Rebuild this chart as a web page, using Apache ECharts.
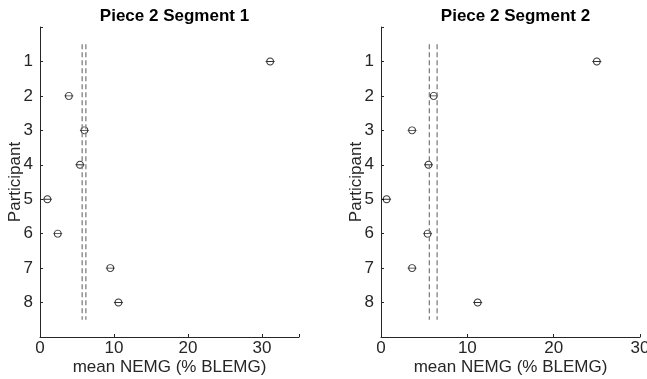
<!DOCTYPE html>
<html>
<head>
<meta charset="utf-8">
<script src="https://cdn.jsdelivr.net/npm/echarts@6/dist/echarts.min.js"></script>
<style>html,body{margin:0;padding:0;background:#fff;}#c{width:647px;height:379px;}</style>
</head>
<body>
<div id="c"></div>
<script>
var participants = [1, 2, 3, 4, 5, 6, 7, 8];
var seg1Values = [31.1, 3.9, 6.0, 5.4, 1.0, 2.4, 9.5, 10.6];
var seg2Values = [25.0, 6.1, 3.6, 5.5, 0.65, 5.4, 3.6, 11.2];
var seg1Lines = [5.7, 6.2];
var seg2Lines = [5.6, 6.5];
var titles = ['Piece 2 Segment 1', 'Piece 2 Segment 2'];
var xMax = [35, 30];
var xTicks = [0, 10, 20, 30];
var lineSpan = [0.5, 8.5];

var chart = echarts.init(document.getElementById('c'));
var font = 'Liberation Sans, Arial, Helvetica, sans-serif';
var axisColor = '#262626';
var sym = 'path://M1,4 A3,3 0 1,1 7,4 A3,3 0 1,1 1,4 Z M0,4 L8,4';

var grids = [
  {left: 40, top: 27, width: 259, height: 310, containLabel: false, outerBoundsMode: 'none'},
  {left: 381, top: 27, width: 259, height: 310, containLabel: false, outerBoundsMode: 'none'}
];
var allValues = [seg1Values, seg2Values];
var allLines = [seg1Lines, seg2Lines];

var xAxes = [], yAxes = [], series = [], titleOpts = [];
for (var i = 0; i < 2; i++) {
  titleOpts.push({
    text: titles[i],
    left: grids[i].left + grids[i].width / 2,
    textAlign: 'center',
    top: 3,
    textStyle: {fontFamily: font, fontSize: 17, fontWeight: 'bold', color: '#000'}
  });
  xAxes.push({
    gridIndex: i, type: 'value', min: 0, max: xMax[i], interval: 10, position: 'bottom',
    name: 'mean NEMG (% BLEMG)', nameLocation: 'middle', nameGap: 22, nameMoveOverlap: false,
    nameTextStyle: {fontFamily: font, fontSize: 17, color: axisColor},
    axisLine: {show: true, onZero: false, lineStyle: {color: axisColor, width: 1}},
    axisTick: {show: true, inside: true, length: 3, lineStyle: {color: axisColor}},
    axisLabel: {fontFamily: font, fontSize: 17, color: axisColor, margin: 3, showMaxLabel: true,
      formatter: function (v) { return xTicks.indexOf(v) >= 0 ? String(v) : ''; }},
    splitLine: {show: false}
  });
  yAxes.push({
    gridIndex: i, type: 'value', min: 0, max: 9, interval: 1, inverse: true, position: 'left',
    name: 'Participant', nameLocation: 'middle', nameGap: 16, nameMoveOverlap: false,
    nameTextStyle: {fontFamily: font, fontSize: 17, color: axisColor},
    axisLine: {show: true, onZero: false, lineStyle: {color: axisColor, width: 1}},
    axisTick: {show: true, inside: true, length: 3, lineStyle: {color: axisColor}},
    axisLabel: {fontFamily: font, fontSize: 17, color: axisColor, margin: 7,
      formatter: function (v) { return participants.indexOf(v) >= 0 ? String(v) : ''; }},
    splitLine: {show: false}
  });
  for (var k = 0; k < 2; k++) {
    series.push({
      type: 'line', xAxisIndex: i, yAxisIndex: i, symbol: 'none', silent: true,
      lineStyle: {color: '#808080', width: 1.3, type: [5, 3]},
      data: [[allLines[i][k], lineSpan[0]], [allLines[i][k], lineSpan[1]]]
    });
  }
  series.push({
    type: 'scatter', xAxisIndex: i, yAxisIndex: i,
    symbol: sym, symbolSize: [9, 7], symbolKeepAspect: false,
    itemStyle: {color: 'none', borderColor: '#000', borderWidth: 1},
    data: participants.map(function (p, j) { return [allValues[i][j], p]; })
  });
}

chart.setOption({
  animation: false,
  title: titleOpts,
  grid: grids,
  xAxis: xAxes,
  yAxis: yAxes,
  series: series
});
</script>
</body>
</html>
